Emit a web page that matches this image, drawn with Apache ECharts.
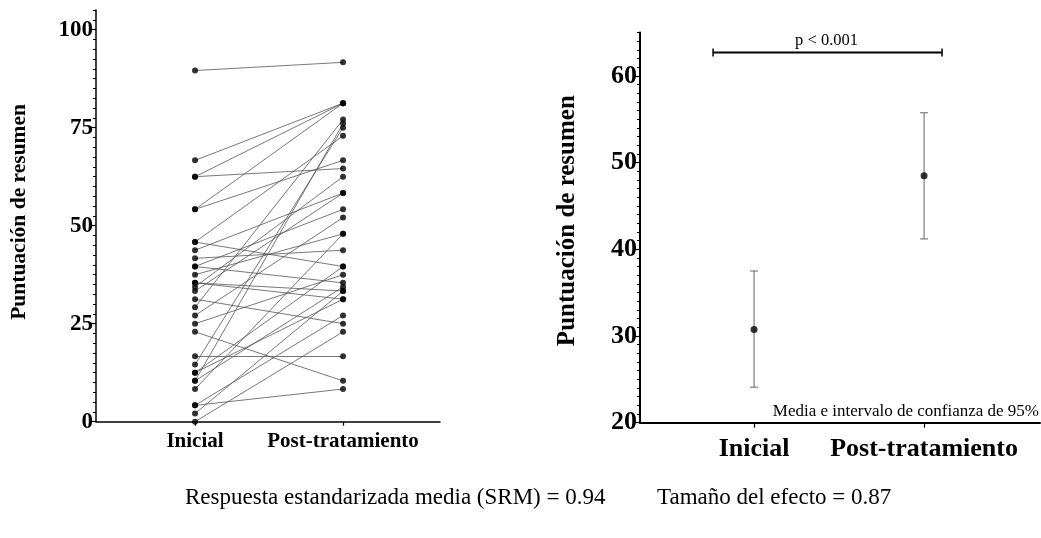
<!DOCTYPE html>
<html>
<head>
<meta charset="utf-8">
<script src="https://cdn.jsdelivr.net/npm/echarts@6/dist/echarts.min.js"></script>
<style>
html,body{margin:0;padding:0;background:#fff;}
#chart{width:1041px;height:538px;}
</style>
</head>
<body>
<div id="chart"></div>
<script>
// ---- data ----
const categories = ['Inicial', 'Post-tratamiento'];
// paired individual scores (Inicial -> Post-tratamiento)
const inicial = [89.58, 66.67, 62.5, 62.5, 54.17, 54.17, 45.83, 45.83, 43.75, 41.67, 39.58, 39.58, 37.5, 35.42, 34.38, 33.33, 31.25, 29.17, 27.08, 25, 22.92, 16.67, 14.58, 12.5, 12.5, 10.42, 10.42, 8.33, 4.17, 4.17, 2.08, 0, 35.42];
const post    = [91.67, 81.25, 81.25, 64.58, 81.25, 66.67, 39.58, 72.92, 58.33, 43.75, 54.17, 35.42, 47.92, 33.33, 62.5, 58.33, 25, 77.08, 52.08, 37.5, 10.42, 16.67, 75, 39.58, 31.25, 76.04, 34.38, 47.92, 8.33, 27.08, 33.33, 22.92, 31.25];
// mean and 95% CI
const meanValues = [30.75, 48.5];
const ciLower = [24.1, 41.2];
const ciUpper = [37.5, 55.75];
const pBracketLevel = 62.7;
const pLabel = 'p < 0.001';
const leftTicks = [0, 25, 50, 75, 100];
const rightTicks = [20, 30, 40, 50, 60];
const leftMinorStep = 2.5;
const rightMinorStep = 1;
const ciNote = 'Media e intervalo de confianza de 95%';
const footLeft = 'Respuesta estandarizada media (SRM) = 0.94';
const footRight = 'Tamaño del efecto = 0.87';
const yName = 'Puntuación de resumen';

// ---- build ----
const SERIF = '"Liberation Serif", "Times New Roman", serif';
function range(a, b, s) { const r = []; for (let v = a; v <= b + 1e-9; v += s) r.push(Math.round(v * 100) / 100); return r; }
const leftMinor = range(0, 105, leftMinorStep);
const rightMinor = range(20, 65, rightMinorStep);

const chart = echarts.init(document.getElementById('chart'), null, { renderer: 'canvas' });

const catFormatter = v => categories[Math.round(v)] || '';

const option = {
  animation: false,
  backgroundColor: '#fff',
  grid: [
    { left: 96, top: 10.1, right: 601, bottom: 116.3 },
    { left: 640, top: 32.6, right: 1, bottom: 115.3 }
  ],
  xAxis: [
    {
      gridIndex: 0, type: 'value', min: -0.669, max: 1.655,
      axisLine: { onZero: false, lineStyle: { color: '#000', width: 1.5 } },
      axisTick: { customValues: [0, 1], length: 4, lineStyle: { color: '#000', width: 1.2 } },
      axisLabel: { customValues: [0, 1], formatter: catFormatter, margin: 9, color: '#000',
        fontFamily: SERIF, fontWeight: 'bold', fontSize: 21 },
      splitLine: { show: false }
    },
    {
      gridIndex: 1, type: 'value', min: -0.671, max: 1.682,
      axisLine: { onZero: false, lineStyle: { color: '#000', width: 2 } },
      axisTick: { customValues: [0, 1], length: 5, lineStyle: { color: '#000', width: 1.2 } },
      axisLabel: { customValues: [0, 1], formatter: catFormatter, margin: 14, color: '#000',
        fontFamily: SERIF, fontWeight: 'bold', fontSize: 26 },
      splitLine: { show: false }
    }
  ],
  yAxis: [
    {
      gridIndex: 0, type: 'value', min: 0, max: 105, position: 'left',
      name: yName, nameLocation: 'middle', nameGap: 66, nameRotate: 90,
      nameTextStyle: { fontFamily: SERIF, fontWeight: 'bold', fontSize: 21.5, color: '#000', padding: [0, 0, 0, 8] },
      axisLine: { show: true, onZero: false, lineStyle: { color: '#000', width: 1.5 } },
      axisTick: { show: true, customValues: leftTicks, length: 5, lineStyle: { color: '#000', width: 1.2 } },
      axisLabel: { customValues: leftTicks, margin: 3, color: '#000', fontFamily: SERIF, fontWeight: 'bold', fontSize: 23 },
      splitLine: { show: false }
    },
    {
      gridIndex: 0, type: 'value', min: 0, max: 105, position: 'left',
      axisLine: { show: false, onZero: false },
      axisTick: { show: true, customValues: leftMinor, length: 3, lineStyle: { color: '#000', width: 1 } },
      axisLabel: { show: false },
      splitLine: { show: false }
    },
    {
      gridIndex: 1, type: 'value', min: 20, max: 65, position: 'left',
      name: yName, nameLocation: 'middle', nameGap: 60, nameRotate: 90,
      nameTextStyle: { fontFamily: SERIF, fontWeight: 'bold', fontSize: 25, color: '#000', padding: [0, 0, 0, 14] },
      axisLine: { show: true, onZero: false, lineStyle: { color: '#000', width: 2 } },
      axisTick: { show: true, customValues: rightTicks, length: 5, lineStyle: { color: '#000', width: 1.2 } },
      axisLabel: { customValues: rightTicks, margin: 3, color: '#000', fontFamily: SERIF, fontWeight: 'bold', fontSize: 26 },
      splitLine: { show: false }
    },
    {
      gridIndex: 1, type: 'value', min: 20, max: 65, position: 'left',
      axisLine: { show: false, onZero: false },
      axisTick: { show: true, customValues: rightMinor, length: 3, lineStyle: { color: '#000', width: 1 } },
      axisLabel: { show: false },
      splitLine: { show: false }
    }
  ],
  series: [
    {
      type: 'lines', coordinateSystem: 'cartesian2d', xAxisIndex: 0, yAxisIndex: 0,
      silent: true, z: 2,
      lineStyle: { color: '#555', width: 0.8, opacity: 1 },
      data: inicial.map((v, i) => ({ coords: [[0, v], [1, post[i]]] }))
    },
    {
      type: 'scatter', xAxisIndex: 0, yAxisIndex: 0, z: 3,
      symbol: 'circle', symbolSize: 6,
      itemStyle: { color: '#000' },
      data: inicial.map(v => [0, v]).concat(post.map(v => [1, v]))
    },
    {
      type: 'custom', xAxisIndex: 1, yAxisIndex: 2, z: 2,
      data: meanValues.map((m, i) => [i, ciLower[i], ciUpper[i]]),
      renderItem: function (params, api) {
        const x = api.value(0);
        const lo = api.coord([x, api.value(1)]);
        const hi = api.coord([x, api.value(2)]);
        const cap = 4;
        const st = { stroke: '#666', lineWidth: 1 };
        return {
          type: 'group',
          children: [
            { type: 'line', shape: { x1: lo[0], y1: lo[1], x2: hi[0], y2: hi[1] }, style: st },
            { type: 'line', shape: { x1: lo[0] - cap, y1: lo[1], x2: lo[0] + cap, y2: lo[1] }, style: st },
            { type: 'line', shape: { x1: hi[0] - cap, y1: hi[1], x2: hi[0] + cap, y2: hi[1] }, style: st }
          ]
        };
      }
    },
    {
      type: 'scatter', xAxisIndex: 1, yAxisIndex: 2, z: 3,
      symbol: 'circle', symbolSize: 7,
      itemStyle: { color: '#000' },
      data: meanValues.map((m, i) => [i, m])
    },
    {
      type: 'custom', xAxisIndex: 1, yAxisIndex: 2, z: 3,
      data: [[0, 1, pBracketLevel]],
      renderItem: function (params, api) {
        const a = api.coord([api.value(0), api.value(2)]);
        const b = api.coord([api.value(1), api.value(2)]);
        const x1 = a[0] - 41, x2 = b[0] + 18, y = a[1];
        const st = { stroke: '#000', lineWidth: 2 };
        return {
          type: 'group',
          children: [
            { type: 'line', shape: { x1: x1, y1: y, x2: x2, y2: y }, style: st },
            { type: 'line', shape: { x1: x1, y1: y - 4, x2: x1, y2: y + 4 }, style: { stroke: '#000', lineWidth: 1.5 } },
            { type: 'line', shape: { x1: x2, y1: y - 4, x2: x2, y2: y + 4 }, style: { stroke: '#000', lineWidth: 1.5 } },
            { type: 'text', x: (x1 + x2) / 2 - 1, y: y - 12,
              style: { text: pLabel, fill: '#000', font: '16.5px ' + SERIF, textAlign: 'center', textVerticalAlign: 'middle' } }
          ]
        };
      }
    }
  ],
  graphic: [
    { type: 'text', right: 2, top: 403,
      style: { text: ciNote, fill: '#000', font: '17px ' + SERIF } },
    { type: 'text', left: 185, top: 486,
      style: { text: footLeft, fill: '#000', font: '23px ' + SERIF } },
    { type: 'text', left: 657, top: 486,
      style: { text: footRight, fill: '#000', font: '23px ' + SERIF } }
  ]
};
chart.setOption(option);
</script>
</body>
</html>
